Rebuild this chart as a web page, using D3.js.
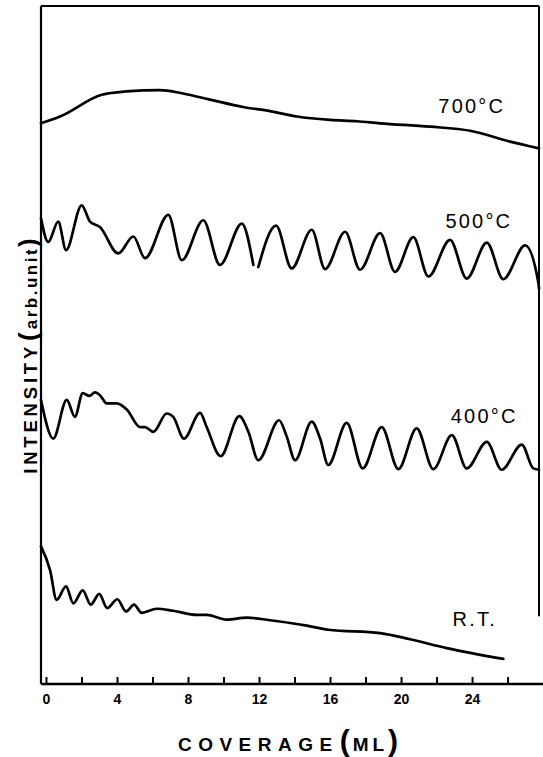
<!DOCTYPE html>
<html><head><meta charset="utf-8">
<script src="https://cdn.jsdelivr.net/npm/d3@7"></script>
<style>html,body{margin:0;padding:0;background:#fff;}svg{display:block;}</style>
</head><body>
<script>
// ---- data (coverage in ML, intensity in arb. units) ----
const series700 = [[-0.28,82.7],[0.79,83.7],[3.14,86.9],[4.52,87.4],[6.42,87.6],[7.72,87.1],[9.24,86.2],[11.10,85.1],[12.62,84.5],[14.14,83.7],[16.0,83.2],[17.52,83.0],[18.82,82.7],[21.63,82.2],[23.89,81.6],[26.14,80.0],[27.44,79.2],[27.77,79.0]];
const series500 = [[-0.28,68.7],[0.13,65.2],[0.69,68.2],[1.13,64.0],[2.01,70.6],[2.48,68.2],[3.04,67.4],[4.07,63.5],[4.92,66.0],[5.58,62.8],[6.89,69.2],[7.65,62.5],[8.86,68.4],[9.80,61.8],[11.03,67.9],[11.68,61.8],[11.82,null],[11.96,61.5],[12.96,67.6],[13.84,61.3],[14.97,67.0],[15.72,61.2],[16.85,66.7],[17.69,61.1],[18.82,66.5],[19.66,60.8],[20.69,65.9],[21.54,60.1],[22.76,65.5],[23.70,59.8],[24.83,65.1],[25.76,59.7],[26.99,64.7],[27.74,59.1],[27.77,58.3]];
const series400 = [[-0.28,41.9],[0.41,36.2],[1.17,41.9],[1.63,39.4],[2.07,42.9],[2.44,42.5],[2.76,43.0],[3.04,42.6],[3.42,41.4],[3.98,41.4],[4.55,40.5],[5.30,37.9],[5.58,37.9],[6.05,37.2],[6.80,39.9],[7.17,39.4],[7.77,36.2],[8.68,40.0],[9.05,37.9],[9.84,33.6],[10.89,39.5],[11.40,37.2],[11.96,33.0],[13.13,38.9],[13.56,36.5],[14.03,33.0],[14.97,38.7],[15.44,36.2],[15.90,32.3],[16.94,38.5],[17.84,31.8],[18.91,37.9],[19.85,31.7],[20.88,37.7],[21.82,31.7],[22.86,36.7],[23.70,31.8],[24.83,35.7],[25.67,31.6],[26.80,35.3],[27.45,31.8],[27.77,31.6]];
const seriesRT = [[-0.28,20.3],[0.23,16.8],[0.60,12.4],[1.13,14.4],[1.54,11.9],[2.07,13.8],[2.52,11.7],[3.00,13.3],[3.45,11.2],[4.02,12.5],[4.51,10.7],[4.96,11.7],[5.39,10.5],[6.24,11.1],[7.17,10.8],[8.49,10.2],[9.05,10.2],[10.18,9.5],[11.31,9.8],[12.62,9.4],[13.75,9.0],[14.69,8.6],[15.90,8.0],[18.82,7.5],[20.51,6.6],[22.57,5.3],[25.76,3.7]];
const seriesNames = ["700°C","500°C","400°C","R.T."];
const xTicks = [0,2,4,6,8,10,12,14,16,18,20,22,24,26];
const xTickLabels = [0,4,8,12,16,20,24];
const xTitle = ["COVERAGE", "(", "ML", ")"];
const yTitle = ["INTENSITY", "(", "arb.unit", ")"];

const W = 543, H = 757;
const svg = d3.select("body").append("svg").attr("width", W).attr("height", H);
const x = d3.scaleLinear().domain([-0.28, 27.77]).range([41, 539]);
const y = d3.scaleLinear().domain([0, 100]).range([684, 6]);
const font = "'Liberation Sans', Arial, Helvetica, sans-serif";

// frame
const [x0, x1] = x.range();
const [yb, yt] = y.range();
svg.append("line").attr("x1", x0).attr("x2", x0).attr("y1", yt).attr("y2", yb).attr("stroke", "#000").attr("stroke-width", 2.2);
svg.append("line").attr("x1", x0).attr("x2", x1).attr("y1", yt).attr("y2", yt).attr("stroke", "#000").attr("stroke-width", 2.2);
svg.append("line").attr("x1", x1).attr("x2", x1).attr("y1", yt).attr("y2", y(10)).attr("stroke", "#000").attr("stroke-width", 2);

// bottom axis
const xAxis = d3.axisBottom(x).tickValues(xTicks).tickSizeInner(-7).tickSizeOuter(0).tickPadding(10)
  .tickFormat(d => xTickLabels.includes(d) ? String(d) : "");
const gx = svg.append("g").attr("transform", `translate(0,${yb})`).call(xAxis);
gx.select(".domain").remove();
gx.selectAll(".tick line").attr("stroke", "#000").attr("stroke-width", 2);
gx.selectAll(".tick text").attr("font-family", font).attr("font-size", 14).attr("font-weight", "bold").attr("fill", "#000");
svg.append("line").attr("x1", x0).attr("x2", W).attr("y1", yb).attr("y2", yb).attr("stroke", "#000").attr("stroke-width", 2.4);

// curves
const line = d3.line().defined(d => d[1] !== null).x(d => x(d[0])).y(d => y(d[1])).curve(d3.curveMonotoneX);
[series700, series500, series400, seriesRT].forEach(s => {
  svg.append("path").datum(s).attr("d", line).attr("fill", "none").attr("stroke", "#000")
    .attr("stroke-width", 2.7).attr("stroke-linejoin", "round").attr("stroke-linecap", "round");
});

// series labels
const labelPos = [[22.1, 84.2], [22.5, 67.2], [22.8, 38.5], [22.9, 8.6]];
seriesNames.forEach((n, i) => {
  svg.append("text").attr("x", x(labelPos[i][0])).attr("y", y(labelPos[i][1]))
    .attr("font-family", font).attr("font-size", 20).attr("letter-spacing", 2.2).attr("fill", "#000").text(n);
});

// x title
const xt = svg.append("text").attr("x", 288).attr("y", 751).attr("text-anchor", "middle")
  .attr("font-family", font).attr("font-weight", "bold").attr("fill", "#000");
xt.append("tspan").attr("font-size", 19).attr("letter-spacing", 6.5).text(xTitle[0]);
xt.append("tspan").attr("font-size", 30).attr("dx", 1).text(xTitle[1]);
xt.append("tspan").attr("font-size", 19).attr("letter-spacing", 4).attr("dx", 3).text(xTitle[2]);
xt.append("tspan").attr("font-size", 30).text(xTitle[3]);

// y title
const yt2 = svg.append("text").attr("transform", "translate(37,356) rotate(-90)").attr("text-anchor", "middle")
  .attr("font-family", font).attr("font-weight", "bold").attr("fill", "#000");
yt2.append("tspan").attr("font-size", 18.5).attr("letter-spacing", 3.8).text(yTitle[0]);
yt2.append("tspan").attr("font-size", 26).attr("dx", 2).text(yTitle[1]);
yt2.append("tspan").attr("font-size", 17).attr("letter-spacing", 2.5).attr("dx", 3).text(yTitle[2]);
yt2.append("tspan").attr("font-size", 26).text(yTitle[3]);
</script>
</body></html>
